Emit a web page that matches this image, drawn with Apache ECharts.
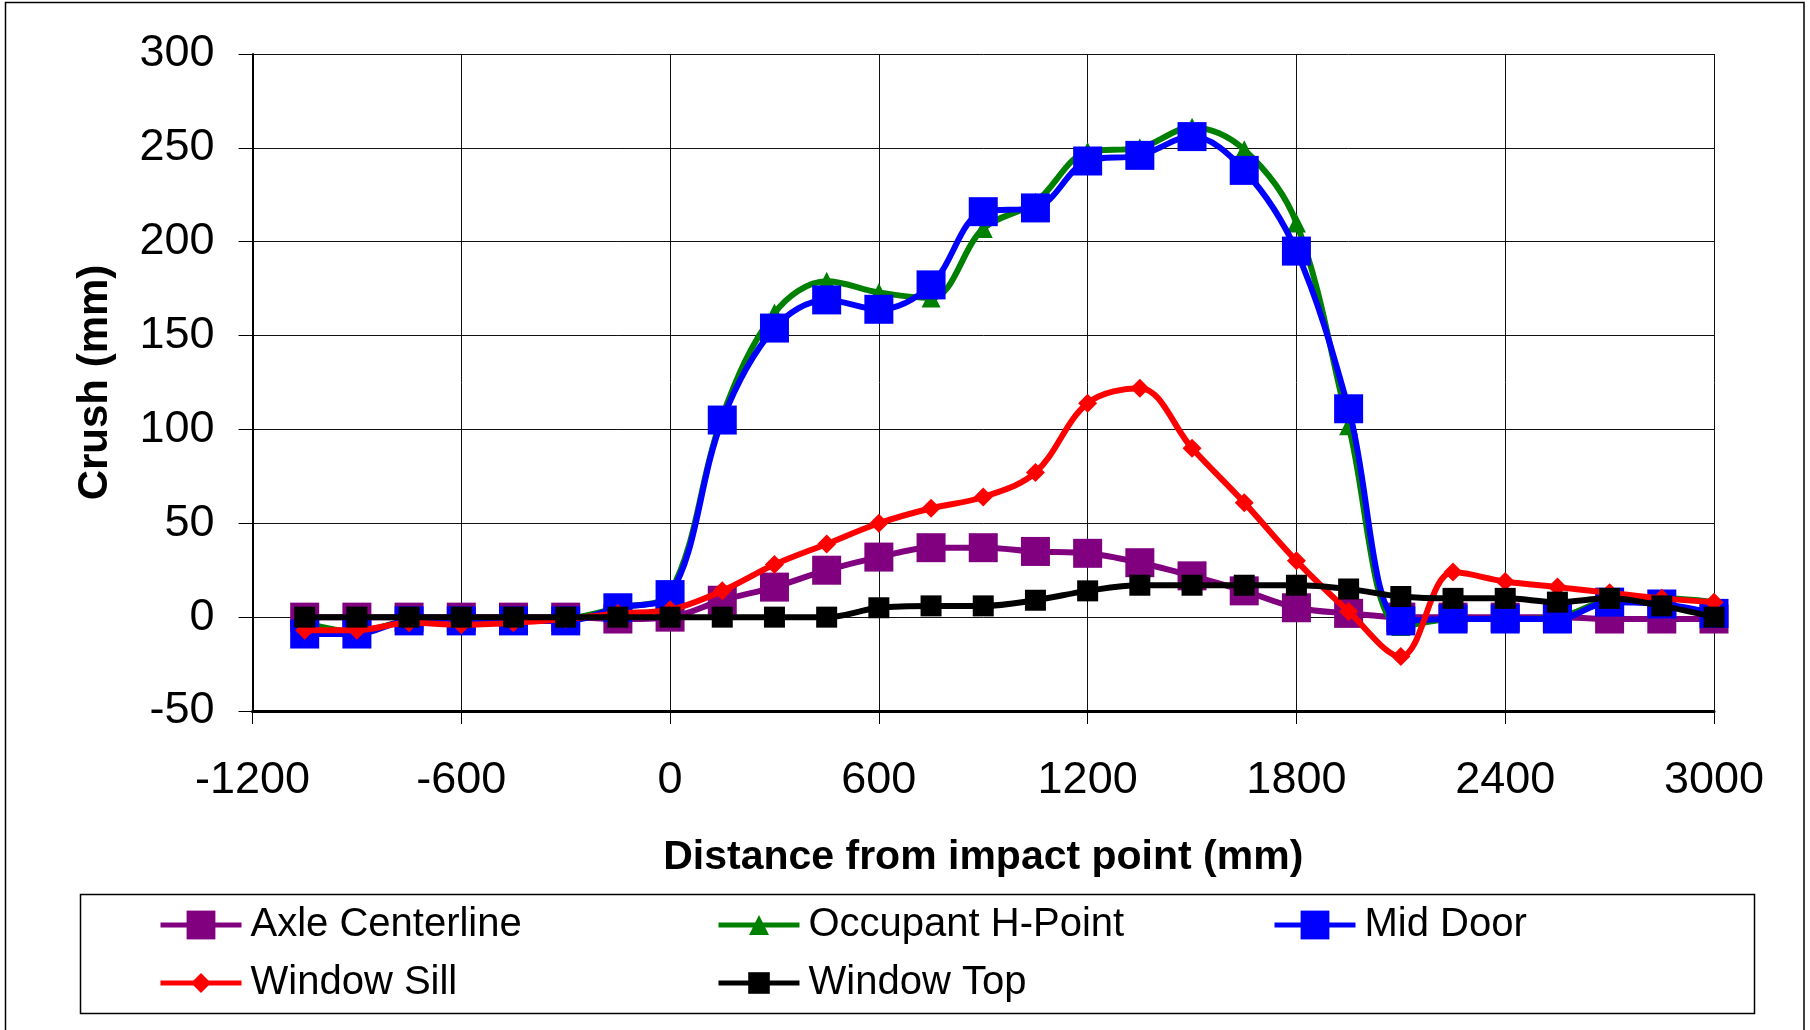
<!DOCTYPE html>
<html>
<head>
<meta charset="utf-8">
<style>
  html, body { margin: 0; padding: 0; background: #fff; }
  #chart { width: 1810px; height: 1030px; }
</style>
<script src="https://cdn.jsdelivr.net/npm/echarts@6/dist/echarts.min.js"></script>
</head>
<body>
<div id="chart"></div>
<script>
// ---- data ----
const distances = [-1050, -900, -750, -600, -450, -300, -150, 0, 150, 300, 450, 600, 750, 900, 1050, 1200, 1350, 1500, 1650, 1800, 1950, 2100, 2250, 2400, 2550, 2700, 2850, 3000];
const axleCenterline = [0, 0, 0, 0, 0, 0, -1, 0, 9, 16, 25, 32, 37, 37, 35, 34, 29, 22, 14, 5, 2, 0, 0, 0, 0, -1, -1, -1];
const occupantHPoint = [-3, -8, -2, -2, -2, -1, 5, 13, 107, 162, 179, 173, 170, 207, 221, 248, 250, 261, 249, 210, 102, -5, -1, -1, 0, 9, 10, 8];
const midDoor = [-9, -9, -2, -2, -2, -2, 5, 12, 105, 154, 169, 164, 177, 216, 218, 243, 246, 256, 238, 195, 111, -2, -1, -1, -1, 8, 7, 2];
const windowSill = [-7, -7, -3, -4, -3, -1, 2, 4, 14, 28, 39, 50, 58, 64, 77, 114, 122, 90, 61, 30, 3, -21, 24, 19, 16, 13, 10, 8];
const windowTop = [0, 0, 0, 0, 0, 0, 0, 0, 0, 0, 0, 5, 6, 6, 9, 14, 17, 17, 17, 17, 15, 11, 10, 10, 8, 10, 6, 0];
const seriesNames = ['Axle Centerline', 'Occupant H-Point', 'Mid Door', 'Window Sill', 'Window Top'];
const xTickLabels = ['-1200', '-600', '0', '600', '1200', '1800', '2400', '3000'];
const yTickLabels = ['-50', '0', '50', '100', '150', '200', '250', '300'];
const xTitle = 'Distance from impact point (mm)';
const yTitle = 'Crush (mm)';

const FONT = '"Liberation Sans", Arial, sans-serif';
const pairs = arr => distances.map((d, i) => [d, arr[i]]);

const styles = [
  { data: axleCenterline, color: '#800080', symbol: 'rect', size: 29 },
  { data: occupantHPoint, color: '#008000', symbol: 'triangle', size: 19 },
  { data: midDoor, color: '#0000FF', symbol: 'rect', size: 29 },
  { data: windowSill, color: '#FF0000', symbol: 'diamond', size: 19 },
  { data: windowTop, color: '#000000', symbol: 'rect', size: 21 }
];

const series = styles.map((s, i) => ({
  name: seriesNames[i],
  type: 'line',
  data: pairs(s.data),
  smooth: 0.35,
  symbol: s.symbol,
  symbolSize: s.size,
  showSymbol: true,
  showAllSymbol: true,
  lineStyle: { color: s.color, width: 6 },
  itemStyle: { color: s.color, borderWidth: 0 },
  emphasis: { disabled: true },
  z: 2 + i
}));

// legend placement: one component per item
const legendPos = [
  { left: 158, center: 925, h: 36 },
  { left: 716, center: 925, h: 25 },
  { left: 1272, center: 925, h: 36 },
  { left: 158, center: 983, h: 25 },
  { left: 716, center: 983, h: 27 }
];
const LH = 46;
const legends = seriesNames.map((n, i) => ({
  data: [n],
  left: legendPos[i].left,
  top: legendPos[i].center - LH / 2,
  padding: 0,
  itemGap: 0,
  itemWidth: 81,
  itemHeight: legendPos[i].h,
  selectedMode: false,
  lineStyle: { width: 5 },
  textStyle: { fontFamily: FONT, fontSize: 40, color: '#000', lineHeight: LH, padding: [0, 0, 0, 4] }
}));

const chart = echarts.init(document.getElementById('chart'), null, { renderer: 'canvas' });
chart.setOption({
  animation: false,
  backgroundColor: '#fff',
  grid: { left: 252.5, right: 96, top: 54, bottom: 319, containLabel: false, outerBoundsMode: 'none' },
  xAxis: {
    type: 'value', min: -1200, max: 3000, interval: 600,
    name: xTitle, nameLocation: 'middle', nameGap: 126,
    nameTextStyle: { fontFamily: FONT, fontSize: 41, fontWeight: 'bold', color: '#000' },
    axisLine: { show: true, onZero: false, lineStyle: { color: '#000', width: 3 } },
    axisTick: { show: true, inside: false, length: 13, lineStyle: { color: '#000', width: 1 } },
    axisLabel: {
      margin: 47, fontFamily: FONT, fontSize: 45, color: '#000',
      formatter: v => xTickLabels[Math.round((v + 1200) / 600)] ?? String(v)
    },
    splitLine: { show: true, lineStyle: { color: '#111', width: 1 } }
  },
  yAxis: {
    type: 'value', min: -50, max: 300, interval: 50,
    name: yTitle, nameLocation: 'middle', nameGap: 136, nameRotate: 90,
    nameTextStyle: { fontFamily: FONT, fontSize: 42, fontWeight: 'bold', color: '#000' },
    axisLine: { show: true, onZero: false, lineStyle: { color: '#000', width: 2 } },
    axisTick: { show: true, inside: false, length: 14, lineStyle: { color: '#000', width: 1 } },
    axisLabel: {
      margin: 38, fontFamily: FONT, fontSize: 45, color: '#000',
      formatter: v => yTickLabels[Math.round((v + 50) / 50)] ?? String(v)
    },
    splitLine: { show: true, lineStyle: { color: '#111', width: 1 } }
  },
  legend: legends,
  graphic: [
    { type: 'rect', shape: { x: 5.5, y: 2.5, width: 1798.5, height: 1100 }, style: { fill: 'none', stroke: '#000', lineWidth: 1.5 }, silent: true, z: -1 },
    { type: 'rect', shape: { x: 80.5, y: 894.5, width: 1674, height: 119 }, style: { fill: 'none', stroke: '#000', lineWidth: 1.5 }, silent: true, z: -1 }
  ],
  series: series
});
</script>
</body>
</html>
